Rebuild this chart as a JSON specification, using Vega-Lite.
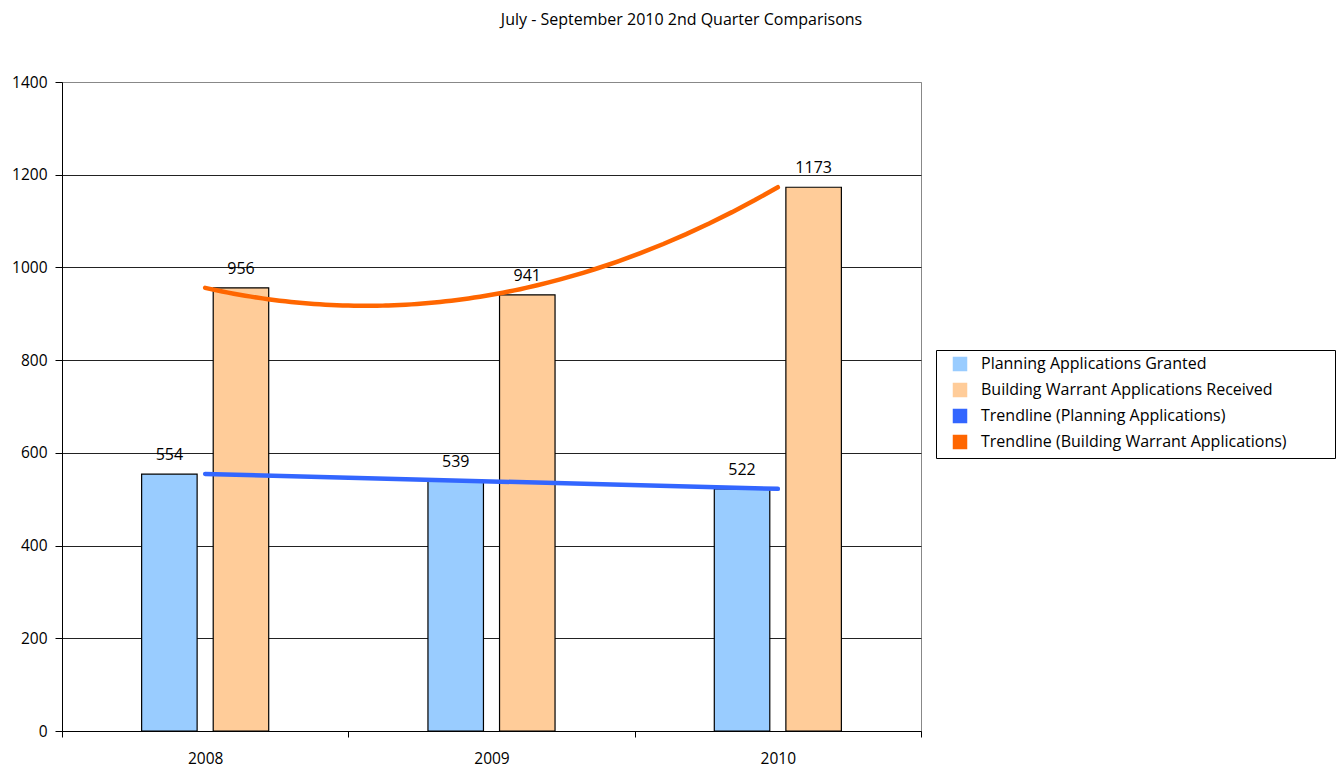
{
  "$schema": "https://vega.github.io/schema/vega-lite/v6.json",
  "autosize": "none",
  "width": 859,
  "height": 649,
  "padding": {"left": 62, "top": 82, "right": 419, "bottom": 37},
  "background": "white",
  "title": {
    "text": "July - September 2010 2nd Quarter Comparisons",
    "frame": "bounds",
    "anchor": "middle",
    "font": "Open Sans",
    "fontSize": 16,
    "fontWeight": "normal",
    "color": "#000",
    "offset": 47,
    "dx": 8
  },
  "config": {
    "view": {"stroke": "#888", "strokeWidth": 1},
    "font": "Open Sans",
    "axis": {"labelFont": "Open Sans", "labelFontSize": 15.5, "labelColor": "#000"},
    "legend": {
      "orient": "none",
      "legendX": 874,
      "legendY": 268,
      "strokeColor": "#000",
      "fillColor": "#fff",
      "padding": 6,
      "symbolSize": 169,
      "symbolOffset": 10,
      "labelOffset": 13,
      "rowPadding": 6,
      "labelFont": "Open Sans",
      "labelFontSize": 16,
      "labelColor": "#000",
      "labelLimit": 400
    }
  },
  "data": {
    "values": [
      {"year": 2008, "series": "Planning Applications Granted", "trend": "Trendline (Planning Applications)", "value": 554},
      {"year": 2008, "series": "Building Warrant Applications Received", "trend": "Trendline (Building Warrant Applications)", "value": 956},
      {"year": 2009, "series": "Planning Applications Granted", "trend": "Trendline (Planning Applications)", "value": 539},
      {"year": 2009, "series": "Building Warrant Applications Received", "trend": "Trendline (Building Warrant Applications)", "value": 941},
      {"year": 2010, "series": "Planning Applications Granted", "trend": "Trendline (Planning Applications)", "value": 522},
      {"year": 2010, "series": "Building Warrant Applications Received", "trend": "Trendline (Building Warrant Applications)", "value": 1173}
    ]
  },
  "resolve": {"scale": {"x": "independent"}, "axis": {"x": "independent"}},
  "layer": [
    {
      "mark": {"type": "bar", "stroke": "#000", "strokeWidth": 1.2, "width": 55.5},
      "encoding": {
        "x": {
          "field": "year", "type": "ordinal",
          "scale": {"paddingInner": 0, "paddingOuter": 0},
          "axis": {
            "title": null, "labelAngle": 0, "tickBand": "extent",
            "domainColor": "#000", "tickColor": "#000", "tickSize": 6,
            "labelPadding": 14, "grid": false
          }
        },
        "xOffset": {
          "field": "series", "type": "nominal",
          "sort": ["Planning Applications Granted", "Building Warrant Applications Received"],
          "scale": {"paddingInner": 0, "paddingOuter": 1}
        },
        "y": {
          "field": "value", "type": "quantitative",
          "scale": {"domain": [0, 1400], "nice": false},
          "axis": {
            "title": null,
            "values": [0, 200, 400, 600, 800, 1000, 1200, 1400],
            "format": "d",
            "domainColor": "#000", "tickColor": "#000", "tickSize": 7,
            "labelPadding": 8,
            "grid": true,
            "gridColor": {"condition": {"test": "datum.value === 1400", "value": "#888"}, "value": "#222"},
            "gridWidth": 1
          }
        },
        "color": {
          "field": "series", "type": "nominal",
          "scale": {
            "domain": [
              "Planning Applications Granted",
              "Building Warrant Applications Received",
              "Trendline (Planning Applications)",
              "Trendline (Building Warrant Applications)"
            ],
            "range": ["#99CCFF", "#FFCC99", "#3366FF", "#FF6600"]
          },
          "legend": {
            "title": "\u00a0",
            "titleOrient": "right",
            "titlePadding": 42,
            "titleFontSize": 6
          }
        }
      }
    },
    {
      "mark": {"type": "text", "baseline": "bottom", "dy": -11, "font": "Open Sans", "fontSize": 16, "color": "#000"},
      "encoding": {
        "x": {
          "field": "year", "type": "ordinal",
          "scale": {"paddingInner": 0, "paddingOuter": 0},
          "axis": null
        },
        "xOffset": {
          "field": "series", "type": "nominal",
          "sort": ["Planning Applications Granted", "Building Warrant Applications Received"],
          "scale": {"paddingInner": 0, "paddingOuter": 1}
        },
        "y": {"field": "value", "type": "quantitative"},
        "text": {"field": "value", "type": "quantitative"}
      }
    },
    {
      "transform": [
        {"filter": "datum.series === 'Planning Applications Granted'"},
        {"regression": "value", "on": "year", "method": "linear", "groupby": ["trend"]}
      ],
      "mark": {"type": "line", "strokeWidth": 4.5, "strokeCap": "round"},
      "encoding": {
        "x": {"field": "year", "type": "quantitative", "scale": {"domain": [2007.5, 2010.5], "nice": false, "zero": false}, "axis": null},
        "y": {"field": "value", "type": "quantitative"},
        "color": {"field": "trend", "type": "nominal"}
      }
    },
    {
      "transform": [
        {"filter": "datum.series === 'Building Warrant Applications Received'"},
        {"regression": "value", "on": "year", "method": "poly", "order": 2, "groupby": ["trend"]}
      ],
      "mark": {"type": "line", "strokeWidth": 4.5, "strokeCap": "round"},
      "encoding": {
        "x": {"field": "year", "type": "quantitative", "scale": {"domain": [2007.5, 2010.5], "nice": false, "zero": false}, "axis": null},
        "y": {"field": "value", "type": "quantitative"},
        "color": {"field": "trend", "type": "nominal"}
      }
    }
  ]
}
